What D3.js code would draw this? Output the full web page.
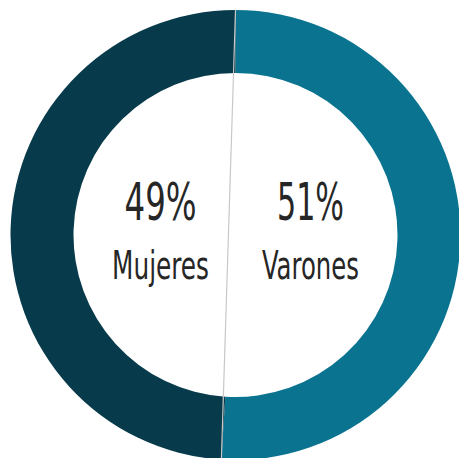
<!DOCTYPE html>
<html>
<head>
<meta charset="utf-8">
<script src="https://cdn.jsdelivr.net/npm/d3@7"></script>
<style>
  body{margin:0;background:#fff;overflow:hidden}
  text{font-family:"Liberation Sans Narrow","DejaVu Sans Condensed",sans-serif;fill:#262626}
</style>
</head>
<body>
<svg id="chart"></svg>
<script>
const categories = ["Varones","Mujeres"];
const values = [51,49];
const colors = ["#0a7390","#073a4a"];

let width = 459, height = 458;
let cx = 235.5, cy = 235, rOut = 225, rIn = 162;

const svg = d3.select('#chart').attr('width',width).attr('height',height);
const g = svg.append('g').attr('transform',`translate(${cx},${cy})`);

const pie = d3.pie().sort(null).value(d=>d)(values);
const arc = d3.arc().innerRadius(rIn).outerRadius(rOut);
const labelArc = d3.arc().innerRadius(75).outerRadius(75);

g.selectAll('.slice')
  .data(pie)
  .join('path')
    .classed('slice',true)
    .attr('d',arc)
    .attr('fill',(d,i)=>colors[i]);

// linea divisoria entre las dos partes
const a0 = pie[0].startAngle, a1 = pie[0].endAngle;
g.append('line')
  .attr('x1',rOut*Math.sin(a0)).attr('y1',-rOut*Math.cos(a0))
  .attr('x2',rOut*Math.sin(a1)).attr('y2',-rOut*Math.cos(a1))
  .attr('stroke','#c8c8c8')
  .attr('stroke-width',1.2);

g.selectAll('.pct')
  .data(pie)
  .join('text')
    .classed('pct',true)
    .attr('x',d=>labelArc.centroid(d)[0])
    .attr('y',-15)
    .attr('text-anchor','middle')
    .attr('font-size',51)
    .attr('textLength',(d,i)=>i===0?67:72)
    .attr('lengthAdjust','spacingAndGlyphs')
    .text(d=>d.value+'%');

g.selectAll('.lab')
  .data(pie)
  .join('text')
    .classed('lab',true)
    .attr('x',d=>labelArc.centroid(d)[0])
    .attr('y',44)
    .attr('text-anchor','middle')
    .attr('font-size',39)
    .attr('textLength',(d,i)=>i===0?97:97)
    .attr('lengthAdjust','spacingAndGlyphs')
    .text((d,i)=>categories[i]);
</script>
</body>
</html>
